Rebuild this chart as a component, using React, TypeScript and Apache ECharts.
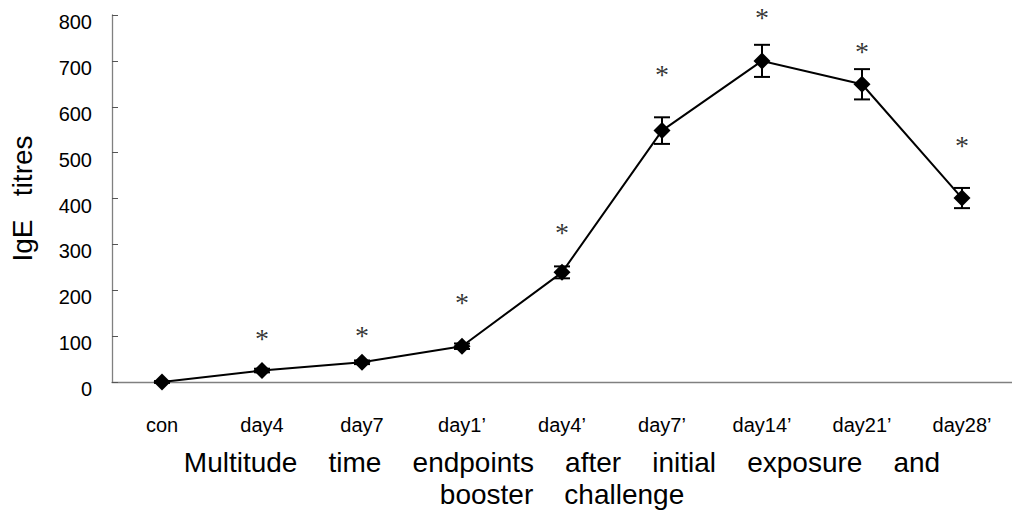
import React, { useEffect, useRef } from "react";
import * as echarts from "echarts";

const categories = ["con", "day4", "day7", "day1’", "day4’", "day7’", "day14’", "day21’", "day28’"];
const igeMeans = [0, 25, 43, 78, 239, 548, 700, 649, 401];
const igeErrors = [2, 4, 4, 6, 13, 29, 35, 33, 22];
const starValues = [null, 95, 102, 174, 326, 670, 795, 720, 516];
const yTicks = [0, 100, 200, 300, 400, 500, 600, 700, 800];

export default function App() {
  const ref = useRef<HTMLDivElement>(null);
  useEffect(() => {
    if (!ref.current) return;
    const chart = echarts.init(ref.current, null, { renderer: "svg" });
    const errData = igeMeans.map((m, i) => [i, m - igeErrors[i], m + igeErrors[i]]);
    const starData = starValues
      .map((v, i) => (v == null ? null : [i, v]))
      .filter((d) => d !== null);
    chart.setOption({
      animation: false,
      backgroundColor: "#ffffff",
      grid: { left: 108, top: 15, width: 914, height: 374 },
      xAxis: {
        type: "category",
        data: categories,
        boundaryGap: true,
        axisLine: { lineStyle: { color: "#808080", width: 1.3 } },
        axisTick: { inside: true, length: 6, alignWithLabel: false, lineStyle: { color: "#555" } },
        axisLabel: {
          color: "#000",
          fontFamily: "Liberation Sans",
          fontSize: 20,
          margin: 33,
          interval: 0,
        },
        name: "Multitude    time    endpoints    after    initial    exposure    and\nbooster    challenge",
        nameLocation: "middle",
        nameGap: 64,
        nameTextStyle: {
          color: "#000",
          fontFamily: "Liberation Sans",
          fontSize: 28,
          lineHeight: 32,
        },
      },
      yAxis: {
        type: "value",
        min: 0,
        max: 800,
        interval: 100,
        splitLine: { show: false },
        axisLine: { show: true, lineStyle: { color: "#808080", width: 1.3 } },
        axisTick: { show: true, inside: true, length: 6, lineStyle: { color: "#555" } },
        axisLabel: {
          color: "#000",
          fontFamily: "Liberation Sans",
          fontSize: 20,
          margin: 20,
          verticalAlign: "top",
          lineHeight: 14,
          formatter: (v: number) => (yTicks.includes(v) ? String(v) : ""),
        },
        name: "IgE   titres",
        nameLocation: "middle",
        nameGap: 76,
        nameTextStyle: {
          color: "#000",
          fontFamily: "Liberation Sans",
          fontSize: 28,
        },
      },
      series: [
        {
          type: "line",
          data: igeMeans,
          symbol: "diamond",
          symbolSize: [17, 17],
          lineStyle: { color: "#000", width: 2 },
          itemStyle: { color: "#000" },
          z: 3,
        },
        {
          type: "custom",
          data: errData,
          z: 2,
          renderItem: (params: any, api: any) => {
            const x = api.value(0);
            const lo = api.coord([x, api.value(1)]);
            const hi = api.coord([x, api.value(2)]);
            const hw = 8;
            const style = { stroke: "#000", lineWidth: 2 };
            return {
              type: "group",
              children: [
                { type: "line", shape: { x1: lo[0], y1: lo[1], x2: hi[0], y2: hi[1] }, style },
                { type: "line", shape: { x1: lo[0] - hw, y1: lo[1], x2: lo[0] + hw, y2: lo[1] }, style },
                { type: "line", shape: { x1: hi[0] - hw, y1: hi[1], x2: hi[0] + hw, y2: hi[1] }, style },
              ],
            };
          },
        },
        {
          type: "scatter",
          data: starData,
          symbolSize: 0,
          silent: true,
          label: {
            show: true,
            position: "inside",
            formatter: "*",
            color: "#000",
            fontFamily: "Liberation Serif",
            fontSize: 28,
          },
        },
      ],
    });
    return () => chart.dispose();
  }, []);
  return (
    <div
      ref={ref}
      style={{ position: "fixed", left: 0, top: 0, width: 1012, height: 515 }}
    />
  );
}
